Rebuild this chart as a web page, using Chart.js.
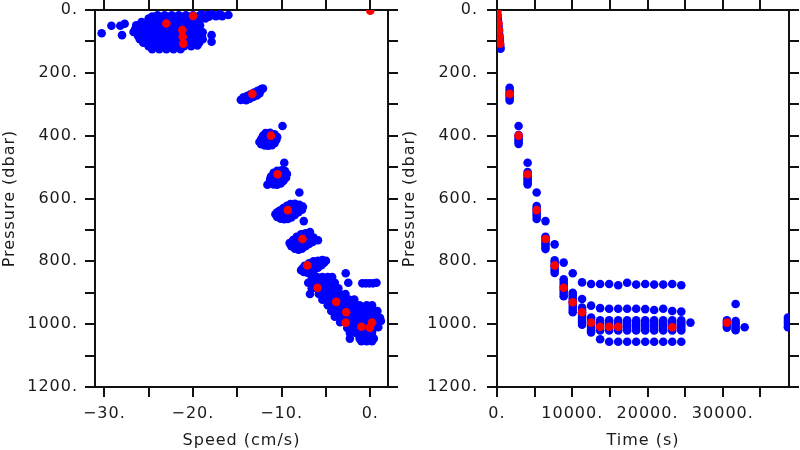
<!DOCTYPE html>
<html>
<head>
<meta charset="utf-8">
<script src="https://cdn.jsdelivr.net/npm/chart.js@4.4.1/dist/chart.umd.min.js"></script>
<style>
    html, body { margin: 0; padding: 0; background: #fff; }
    #wrap { position: relative; width: 800px; height: 450px; }
    canvas { position: absolute; top: 0; }
    #speedChart { left: 0; }
    #timeChart { left: 400px; }
</style>
</head>
<body>
<div id="wrap">
    <canvas id="speedChart" width="400" height="450"></canvas>
    <canvas id="timeChart" width="400" height="450"></canvas>
</div>
<script>
// tick values (labels every other tick)
var pressureTicks = [0, 100, 200, 300, 400, 500, 600, 700, 800, 900, 1000, 1100, 1200];
var speedTicks = [-30, -25, -20, -15, -10, -5, 0];
var timeTicks = [0, 5000, 10000, 15000, 20000, 25000, 30000, 35000];

// left panel: blue samples as [speed, pressure]
var surfaceBlob = [
    [-24, 17], [-23.2, 17], [-22.4, 17], [-21.6, 17], [-20.8, 17], [-20, 17], [-19.2, 17], [-18.4, 17], [-17.6, 17], [-16.8, 17], [-16, 16],
    [-24.6, 21], [-19.0, 21], [-18.2, 21], [-17.4, 20], [-16.7, 20], [-17.0, 14], [-18.0, 14], [-19.0, 14],
    [-25, 27], [-24.2, 27], [-23.4, 27], [-22.6, 27], [-21.8, 27], [-21, 27], [-20.2, 27], [-19.4, 27], [-18.6, 27],
    [-25.8, 38], [-25, 38], [-24.2, 38], [-23.4, 38], [-22.6, 38], [-21.8, 38], [-21, 38], [-20.2, 38], [-19.4, 38], [-27.7, 44],
    [-29.2, 50], [-28.2, 50], [-26.4, 49], [-25.6, 49], [-24.8, 49], [-24, 49], [-23.2, 49], [-22.4, 49], [-21.6, 49], [-20.8, 49], [-20, 49], [-19.2, 49],
    [-26.5, 60], [-25.7, 60], [-24.9, 60], [-24.1, 60], [-23.3, 60], [-22.5, 60], [-21.7, 60], [-20.9, 60], [-20.1, 60], [-19.3, 60],
    [-30.3, 74], [-26.7, 70], [-26, 71], [-25.2, 71], [-24.4, 71], [-23.6, 71], [-22.8, 71], [-22, 71], [-21.2, 71], [-20.4, 71], [-19.6, 71], [-18.9, 71],
    [-28, 80], [-26.2, 82], [-25.4, 82], [-24.6, 82], [-23.8, 82], [-23, 82], [-22.2, 82], [-21.4, 82], [-20.6, 82], [-19.8, 82], [-19, 82], [-17.9, 80],
    [-26, 93], [-25.2, 93], [-24.4, 93], [-23.6, 93], [-22.8, 93], [-22, 93], [-21.2, 93], [-20.4, 93], [-19.6, 93], [-18.9, 93],
    [-25.6, 104], [-24.8, 104], [-24, 104], [-23.2, 104], [-22.4, 104], [-21.6, 104], [-20.8, 104], [-20, 104], [-19.3, 104], [-17.9, 101],
    [-25, 115], [-24.2, 115], [-23.4, 115], [-22.6, 115], [-21.8, 115], [-21, 115], [-20.2, 115], [-19.5, 113],
    [-24.6, 125], [-23.8, 125], [-23, 125], [-22.2, 125], [-21.4, 125]
];
var blob270 = [
    [-14.6, 286], [-14.2, 283], [-13.8, 279], [-13.4, 274], [-13.0, 269], [-12.7, 264], [-12.4, 258], [-12.1, 250],
    [-14.3, 278], [-13.9, 274], [-13.5, 268], [-13.1, 263], [-12.7, 257], [-12.3, 252],
    [-13.6, 282], [-13.2, 277], [-12.8, 272], [-12.5, 266], [-14.0, 287]
];
var blob400 = [
    [-12.5, 420], [-12.3, 427], [-11.9, 431], [-11.5, 432], [-11.1, 430], [-10.8, 424], [-10.6, 414], [-10.5, 404],
    [-10.8, 396], [-11.3, 391], [-11.8, 392], [-12.1, 400], [-12.3, 411], [-11.8, 414], [-11.4, 418], [-11.0, 414],
    [-11.6, 405], [-10.9, 406], [-12.0, 422], [-9.9, 369]
];
var blob520 = [
    [-11.2, 548], [-11.6, 556], [-10.9, 555], [-10.5, 556], [-10.1, 552], [-9.8, 544], [-9.5, 534], [-9.4, 522],
    [-9.6, 513], [-10.0, 510], [-10.5, 512], [-10.9, 518], [-11.2, 530], [-11.3, 540], [-10.8, 538], [-10.3, 542],
    [-9.9, 530], [-10.2, 522], [-10.7, 528], [-9.7, 486]
];
var blob640 = [
    [-10.7, 650], [-10.5, 659], [-10.1, 664], [-9.7, 666], [-9.3, 665], [-8.9, 660], [-8.5, 652], [-8.1, 644],
    [-7.7, 636], [-7.6, 626], [-8.0, 620], [-8.5, 617], [-9.0, 618], [-9.4, 623], [-9.8, 630], [-10.2, 638],
    [-10.5, 644], [-9.6, 645], [-9.0, 640], [-8.4, 634], [-9.9, 652], [-9.2, 654], [-8.0, 581], [-7.5, 672]
];
var blob730 = [
    [-9.1, 742], [-8.9, 752], [-8.5, 760], [-8.1, 763], [-7.7, 760], [-7.3, 752], [-6.9, 745], [-6.5, 738],
    [-6.1, 732], [-6.4, 724], [-6.8, 716], [-7.3, 711], [-7.8, 714], [-8.3, 722], [-8.7, 732], [-7.8, 736],
    [-7.3, 728], [-8.2, 742], [-7.6, 748], [-6.8, 707], [-5.9, 733]
];
var blob810 = [
    [-7.8, 828], [-7.5, 834], [-7.1, 836], [-6.7, 832], [-6.3, 826], [-5.9, 820], [-5.5, 812], [-5.2, 804],
    [-5.0, 798], [-5.4, 796], [-5.9, 798], [-6.4, 800], [-6.9, 806], [-7.4, 814], [-7.6, 822], [-6.9, 820],
    [-6.3, 812], [-5.8, 808], [-6.6, 815]
];
var blob1000 = [
    [-6.6, 850], [-6.0, 850], [-5.4, 850], [-4.8, 850], [-4.3, 850],
    [-7.0, 868], [-6.4, 868], [-5.8, 868], [-5.2, 868], [-4.6, 868], [-4.0, 868],
    [-6.6, 886], [-6.0, 886], [-5.4, 886], [-4.8, 886], [-4.2, 886], [-3.6, 886],
    [-6.8, 904], [-5.8, 904], [-5.2, 904], [-4.6, 904], [-4.0, 904], [-3.4, 904], [-2.8, 904],
    [-5.4, 922], [-4.8, 922], [-4.2, 922], [-3.6, 922], [-3.0, 922], [-2.4, 922], [-1.8, 922],
    [-4.8, 940], [-4.2, 940], [-3.6, 940], [-3.0, 940], [-2.4, 940], [-1.8, 940], [-1.2, 940], [-0.4, 940], [0.2, 940],
    [-4.4, 958], [-3.8, 958], [-3.2, 958], [-2.6, 958], [-2.0, 958], [-1.4, 958], [-0.8, 958], [-0.2, 958], [0.4, 958], [0.8, 958],
    [-4.0, 976], [-3.4, 976], [-2.8, 976], [-2.2, 976], [-1.6, 976], [-1.0, 976], [-0.4, 976], [0.2, 976], [0.7, 976], [1.1, 980],
    [-3.4, 994], [-2.8, 994], [-2.2, 994], [-1.6, 994], [-1.0, 994], [-0.4, 994], [0.2, 994], [0.8, 994], [1.2, 990],
    [-2.6, 1012], [-2.0, 1012], [-1.4, 1012], [-0.8, 1012], [-0.2, 1012], [0.4, 1012], [0.9, 1010],
    [-2.3, 1028], [-1.6, 1028], [-1.0, 1028], [-0.4, 1028], [0.2, 1028],
    [-2.3, 1046], [-1.2, 1046], [-0.6, 1046], [0.0, 1046], [0.4, 1046],
    [-1.0, 1054], [-0.4, 1054], [0.2, 1054],
    [-0.9, 870], [-0.5, 870], [-0.1, 870], [0.3, 870], [0.7, 868],
    [-2.77, 838], [-2.48, 868]
];

// left panel: red mean points
var redSpeed = [0, -20, -23, -21.2, -21.15, -21.1, -13.3, -11.2, -10.45, -9.3, -7.65, -7.1, -5.95, -3.85, -2.72, -2.77, -1.0, -0.05, 0.2];
var redPressureL = [2, 19, 43, 64, 85, 107, 267, 400, 523, 637, 729, 813, 884, 929, 962, 995, 1008, 1011, 995];

// right panel: blue samples of the descent near the surface
var surfaceTime = [15, 45, 80, 105, 140, 170, 205, 230, 265, 290, 320, 350, 375, 410, 440, 470];
var surfacePressure = [4, 13, 21, 27, 37, 45, 53, 61, 67, 77, 85, 91, 101, 109, 117, 123];

// right panel: blue samples grouped by time column
var colTime = [1680, 2870, 4070, 5270, 6440, 7660, 8860, 10060, 11300, 12500, 13700, 14900, 16100, 17290,
    18490, 19690, 20880, 22080, 23280, 24480, 25700, 30540, 31700, 32900, 38650];
var colPressure = [
    [248, 256, 264, 272, 280, 288],
    [369, 398, 405, 412, 419, 426],
    [486, 516, 524, 532, 540, 548, 555],
    [581, 624, 632, 640, 648, 656, 665],
    [672, 722, 730, 738, 746, 754, 761],
    [746, 797, 805, 813, 821, 829, 837],
    [804, 857, 866, 875, 884, 893, 902, 911],
    [838, 900, 909, 918, 927, 936, 945, 954, 962],
    [867, 920, 947, 955, 963, 971, 979, 987, 995, 1002],
    [872, 941, 979, 987, 995, 1003, 1011, 1019, 1026],
    [872, 949, 988, 996, 1004, 1012, 1020, 1048],
    [872, 951, 988, 996, 1004, 1012, 1020, 1056],
    [876, 951, 988, 996, 1004, 1012, 1020, 1056],
    [868, 951, 988, 996, 1004, 1012, 1020, 1056],
    [874, 951, 988, 996, 1004, 1012, 1020, 1056],
    [872, 952, 988, 996, 1004, 1012, 1020, 1056],
    [874, 955, 988, 996, 1004, 1012, 1020, 1056],
    [874, 951, 988, 996, 1004, 1012, 1020, 1056],
    [872, 958, 988, 996, 1004, 1012, 1020, 1056],
    [876, 960, 988, 996, 1004, 1012, 1020, 1056],
    [995],
    [988, 996, 1004, 1011],
    [936, 990, 998, 1006, 1014, 1019],
    [1010],
    [979, 987, 995, 1003, 1010]
];

// right panel: red mean points
var redTime = [20, 110, 200, 265, 330, 400, 1680, 2870, 4070, 5270, 6440, 7660, 8860, 10060, 11300, 12500, 13700, 14900, 16100, 23280, 30540];
var redPressureR = [2, 19, 43, 64, 85, 107, 267, 400, 523, 637, 729, 813, 884, 930, 962, 995, 1008, 1008, 1008, 1010, 995];

function PressurePlots() { }

PressurePlots.prototype = {
    ink: '#1a1a1a',
    family: 'DejaVu Sans',

    init: function () {
        var me = this;
        var leftBlue = [];
        [surfaceBlob, blob270, blob400, blob520, blob640, blob730, blob810, blob1000].forEach(function (group) {
            group.forEach(function (p) { leftBlue.push({ x: p[0], y: p[1] }); });
        });
        var leftRed = redSpeed.map(function (s, i) { return { x: s, y: redPressureL[i] }; });

        var rightBlue = surfaceTime.map(function (t, i) { return { x: t, y: surfacePressure[i] }; });
        colTime.forEach(function (t, i) {
            colPressure[i].forEach(function (p) { rightBlue.push({ x: t, y: p }); });
        });
        var rightRed = redTime.map(function (t, i) { return { x: t, y: redPressureR[i] }; });

        me.build('speedChart', leftBlue, leftRed, {
            xMin: -31.05, xMax: 2.0, xTicks: speedTicks, xStep: 10, xTitle: 'Speed (cm/s)',
            leftWidth: 95, rightWidth: 12, yPad: 7
        });
        me.build('timeChart', rightBlue, rightRed, {
            xMin: 0, xMax: 38790, xTicks: timeTicks, xStep: 10000, xTitle: 'Time (s)',
            leftWidth: 97, rightWidth: 11, yPad: 9
        });
    },

    fmt: function (v) {
        return (v < 0 ? '\u2212' + Math.abs(v) : String(v)) + '.';
    },

    build: function (canvasId, blue, red, cfg) {
        var me = this;
        var tickFont = { family: me.family, size: 16 };
        var titleFont = { family: me.family, size: 16 };
        var grid = { drawOnChartArea: false, drawTicks: true, tickLength: 10, lineWidth: 2, color: '#111' };
        var border = { display: true, color: '#111', width: 2 };

        // fixed box size, and no label overhang padding so the plot frame lands where it should
        function fixed(px) {
            return function (scale) {
                if (scale.isHorizontal()) { scale.height = px; } else { scale.width = px; }
                scale.paddingTop = 0;
                scale.paddingBottom = 0;
                scale.paddingLeft = 0;
                scale.paddingRight = 0;
            };
        }
        function setTicks(values) {
            return function (scale) { scale.ticks = values.map(function (v) { return { value: v }; }); };
        }
        function labelEvery(step) {
            return function (v) { return v % step === 0 ? me.fmt(v) : ''; };
        }

        var spacing = {
            id: 'letterSpacing',
            beforeDraw: function (chart) { chart.ctx.letterSpacing = '1px'; }
        };

        return new Chart(document.getElementById(canvasId), {
            type: 'scatter',
            data: {
                datasets: [
                    { data: red, backgroundColor: '#ff0000', order: 0 },
                    { data: blue, backgroundColor: '#0000ff', order: 1 }
                ]
            },
            plugins: [spacing],
            options: {
                responsive: false,
                animation: false,
                devicePixelRatio: 1,
                layout: { padding: 0, autoPadding: false },
                elements: { point: { radius: 4.3, hoverRadius: 4.3, borderWidth: 0 } },
                plugins: { legend: { display: false }, tooltip: { enabled: false } },
                scales: {
                    x: {
                        type: 'linear', position: 'bottom', min: cfg.xMin, max: cfg.xMax, z: 1,
                        afterBuildTicks: setTicks(cfg.xTicks), afterFit: fixed(63),
                        grid: grid, border: border,
                        ticks: { callback: labelEvery(cfg.xStep), font: tickFont, color: me.ink, padding: 7, autoSkip: false, maxRotation: 0, minRotation: 0 },
                        title: { display: true, text: cfg.xTitle, font: titleFont, color: me.ink, padding: { top: 0, bottom: 0 } }
                    },
                    x2: {
                        type: 'linear', position: 'top', min: cfg.xMin, max: cfg.xMax, z: 1,
                        afterBuildTicks: setTicks(cfg.xTicks), afterFit: fixed(10),
                        grid: grid, border: border,
                        ticks: { callback: function () { return ''; }, autoSkip: false, maxRotation: 0 }
                    },
                    y: {
                        type: 'linear', position: 'left', min: 0, max: 1200, reverse: true, z: 1,
                        afterBuildTicks: setTicks(pressureTicks), afterFit: fixed(cfg.leftWidth),
                        grid: grid, border: border,
                        ticks: { callback: labelEvery(200), font: tickFont, color: me.ink, padding: cfg.yPad, autoSkip: false },
                        title: { display: true, text: 'Pressure (dbar)', font: titleFont, color: me.ink, padding: { top: 0, bottom: 0 } }
                    },
                    y2: {
                        type: 'linear', position: 'right', min: 0, max: 1200, reverse: true, z: 1,
                        afterBuildTicks: setTicks(pressureTicks), afterFit: fixed(cfg.rightWidth),
                        grid: grid, border: border,
                        ticks: { callback: function () { return ''; }, autoSkip: false }
                    }
                }
            }
        });
    }
};

new PressurePlots().init();
</script>
</body>
</html>
